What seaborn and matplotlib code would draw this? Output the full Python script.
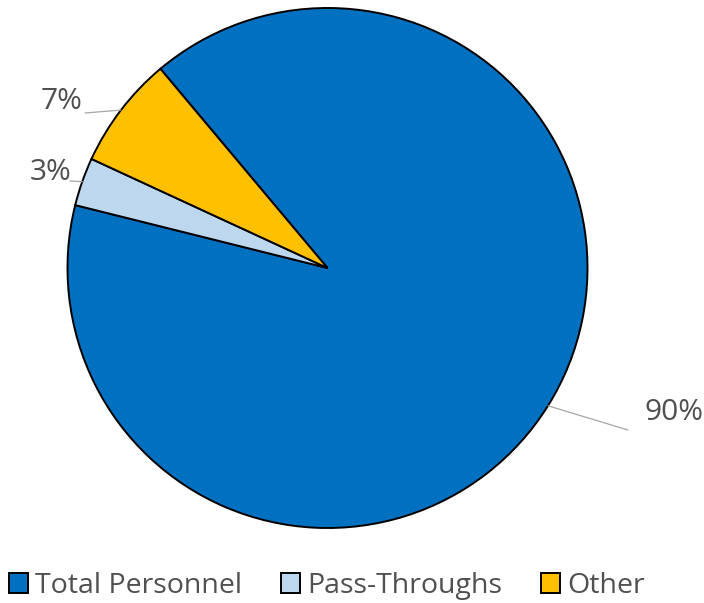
import numpy as np
import matplotlib
matplotlib.use("Agg")
import matplotlib.pyplot as plt
from matplotlib.patches import Patch
import seaborn as sns

categories = ["Total Personnel", "Pass-Throughs", "Other"]
values = [90, 3, 7]
labels = ["90%", "3%", "7%"]
colors = ["#0070C0", "#BDD7EE", "#FFC000"]

sns.set_theme(style="white")
plt.rcParams["font.family"] = ["Open Sans", "DejaVu Sans"]

W, H = 704, 603
fig = plt.figure(figsize=(W / 100, H / 100), dpi=100)
ax = fig.add_axes([0, 0, 1, 1])

cx, cy, R = 327.5, 268.0, 260.0  # pixel geometry of the pie

wedges, _ = ax.pie(values, colors=colors, startangle=130, counterclock=False,
                   radius=1.0, center=(0, 0), frame=True,
                   wedgeprops=dict(edgecolor="black", linewidth=1.4))
ax.set_xlim(-cx / R, (W - cx) / R)
ax.set_ylim((cy - H) / R, cy / R)
ax.set_aspect("auto")
ax.axis("off")

def px(x, y):
    return ((x - cx) / R, (cy - y) / R)

# label placement (pixel) : leader end, text anchor, alignment
layout = {
    "90%": ((628, 430), (644, 413), "left"),
    "3%": ((70, 181), (71, 173), "right"),
    "7%": ((85, 113), (83, 102), "right"),
}
for w, lab in zip(wedges, labels):
    mid = np.deg2rad((w.theta1 + w.theta2) / 2)
    sx, sy = np.cos(mid), np.sin(mid)
    end, tpos, ha = layout[lab]
    ex, ey = px(*end)
    ax.plot([sx, ex], [sy, ey], color="#A6A6A6", lw=0.9)
    tx, ty = px(*tpos)
    ax.text(tx, ty, lab, ha=ha, va="center", fontsize=21.5, color="#505050")

handles = [Patch(facecolor=c, edgecolor="black", linewidth=1.4) for c in colors]
fig.legend(handles, categories, loc="center", bbox_to_anchor=(0.464, 0.028),
           ncol=3, frameon=False, fontsize=20.5, labelcolor="#505050",
           handlelength=0.68, handleheight=0.68, handletextpad=0.25,
           columnspacing=1.35, borderaxespad=0, borderpad=0)

fig.savefig("out.png", dpi=100, facecolor="white")
